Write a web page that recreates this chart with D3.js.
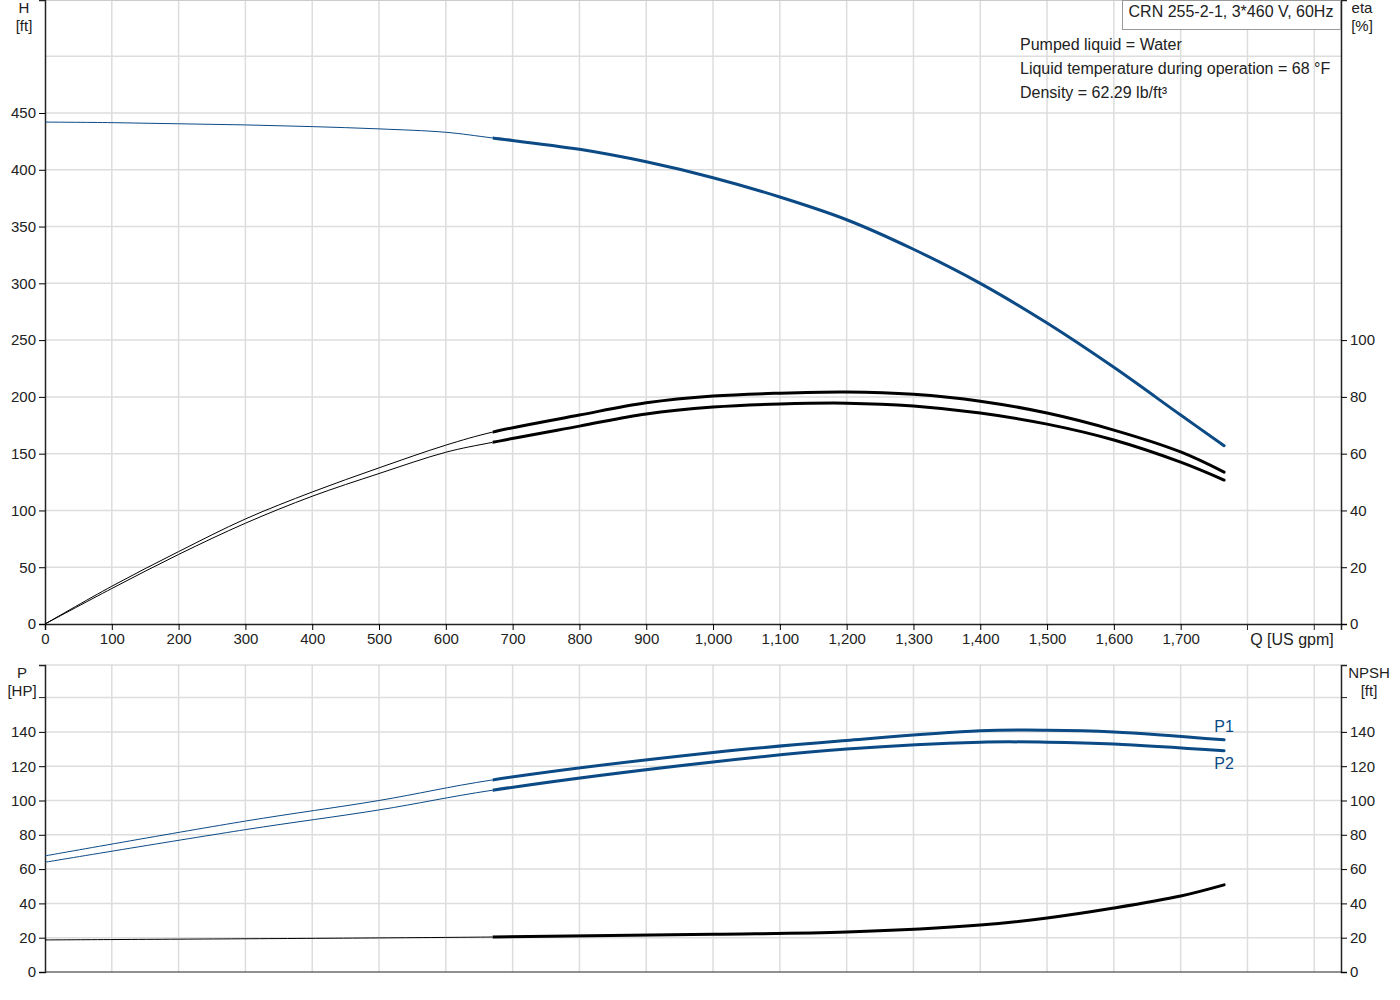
<!DOCTYPE html>
<html><head><meta charset="utf-8">
<script src="https://cdn.jsdelivr.net/npm/d3@7"></script>
<style>
body { margin: 0; background: #fff; }
text { font-family: "Liberation Sans", Arial, sans-serif; font-size: 15px; fill: #222; }
</style></head>
<body>
<script>
// data
var qH = [0, 100, 200, 300, 400, 500, 600, 670, 800, 900, 1000, 1100, 1200, 1300, 1400, 1500, 1600, 1700, 1765];
var head = [442, 441.5, 440.5, 439.5, 438, 436, 433, 428, 418, 407, 393, 376, 356, 330, 300, 265, 226, 184, 157];
var qE = [0, 100, 200, 300, 400, 500, 600, 670, 800, 900, 1000, 1100, 1200, 1300, 1400, 1500, 1600, 1700, 1765];
var etaUpper = [0, 13.3, 25.5, 37, 46.5, 55, 63, 67.6, 73.6, 77.9, 80.3, 81.3, 81.7, 80.9, 78.5, 74.3, 68.3, 60.6, 53.5];
var etaLower = [0, 12.5, 24.5, 35.5, 45, 53, 60.5, 64, 69.7, 74, 76.4, 77.5, 77.8, 76.8, 74.3, 70.4, 64.8, 57, 50.7];
var qP = [0, 300, 500, 670, 1000, 1200, 1400, 1500, 1600, 1765];
var p1 = [67.7, 88, 100, 112, 128, 135, 140.6, 141, 140, 135.4];
var p2 = [64, 83, 94.5, 106, 122.5, 130, 134, 134, 133, 129];
var qN = [0, 670, 1000, 1200, 1400, 1500, 1600, 1700, 1765];
var npsh = [18.7, 20.4, 22, 23.3, 27.4, 31.5, 37.3, 44.3, 50.8];
var qTicks = d3.range(0, 1800, 100);
var hTicks = d3.range(0, 500, 50);
var etaTicks = d3.range(0, 120, 20);
var pTicks = d3.range(0, 160, 20);
var qSplit = 670, qEnd = 1765;
var legendLines = ["Pumped liquid = Water", "Liquid temperature during operation = 68 °F", "Density = 62.29 lb/ft³"];

var blue = "#0b4a85";
var svg = d3.select("body").append("svg").attr("width", 1400).attr("height", 1000);

var L = 45, R = 1341;
var x = d3.scaleLinear().domain([0, 1940]).range([L, R]);
var yH = d3.scaleLinear().domain([0, 549.5]).range([624, 0]);
var yE = d3.scaleLinear().domain([0, 100 * 549.5 / 250]).range([624, 0]);
var yP = d3.scaleLinear().domain([0, 179]).range([972, 665]);

function grid(y0, y1, yScale, yGrid) {
  svg.append("g").selectAll("line").data(d3.range(100, 2000, 100)).join("line")
    .attr("x1", d => x(d)).attr("x2", d => x(d)).attr("y1", y0).attr("y2", y1)
    .attr("stroke", "#ddd").attr("stroke-width", 1.5);
  svg.append("g").selectAll("line").data(yGrid).join("line")
    .attr("x1", L).attr("x2", R).attr("y1", d => yScale(d)).attr("y2", d => yScale(d))
    .attr("stroke", "#ddd").attr("stroke-width", 1.5);
}
grid(0, 624, yH, d3.range(50, 550, 50));
grid(665, 972, yP, d3.range(20, 180, 20));

svg.append("line").attr("x1", L).attr("x2", R).attr("y1", 0.5).attr("y2", 0.5).attr("stroke", "#ccc");
svg.append("line").attr("x1", L).attr("x2", R).attr("y1", 665).attr("y2", 665).attr("stroke", "#ccc");

// axes
var ax = svg.append("g").attr("transform", "translate(0,624)")
  .call(d3.axisBottom(x).tickValues(qTicks).tickSize(6).tickFormat(d3.format(",")));
[1800, 1900].forEach(q => ax.append("line").attr("x1", x(q)).attr("x2", x(q)).attr("y1", 0).attr("y2", 6).attr("stroke", "#222"));
svg.append("g").attr("transform", "translate(" + L + ",0)")
  .call(d3.axisLeft(yH).tickValues(hTicks).tickSize(6));
svg.append("g").attr("transform", "translate(" + R + ",0)")
  .call(d3.axisRight(yE).tickValues(etaTicks).tickSize(6));
svg.append("g").attr("transform", "translate(" + L + ",0)")
  .call(d3.axisLeft(yP).tickValues(pTicks).tickSize(6))
  .call(g => g.append("line").attr("x1", -6).attr("x2", 0).attr("y1", yP(160)).attr("y2", yP(160)).attr("stroke", "#222"));
svg.append("g").attr("transform", "translate(" + R + ",0)")
  .call(d3.axisRight(yP).tickValues(pTicks).tickSize(6))
  .call(g => g.append("line").attr("x1", 0).attr("x2", 6).attr("y1", yP(160)).attr("y2", yP(160)).attr("stroke", "#222"));
svg.append("line").attr("x1", L).attr("x2", R).attr("y1", 972).attr("y2", 972).attr("stroke", "#222");
svg.selectAll(".domain").attr("stroke", "#222").attr("stroke-width", 1.5);
svg.selectAll(".tick text").style("font-size", "15px");

// clip regions: thin before qSplit, thick after
var defs = svg.append("defs");
defs.append("clipPath").attr("id", "thin").append("rect")
  .attr("x", 0).attr("y", 0).attr("width", x(qSplit)).attr("height", 1000);
defs.append("clipPath").attr("id", "thick").append("rect")
  .attr("x", x(qSplit)).attr("y", 0).attr("width", 1400).attr("height", 1000);

function curve(qs, vs, yScale, color) {
  var pts = qs.map((q, i) => [q, vs[i]]);
  var line = d3.line().x(d => x(d[0])).y(d => yScale(d[1])).curve(d3.curveCatmullRom.alpha(0.5));
  svg.append("path").attr("d", line(pts)).attr("clip-path", "url(#thin)")
    .attr("fill", "none").attr("stroke", color).attr("stroke-width", 1);
  svg.append("path").attr("d", line(pts)).attr("clip-path", "url(#thick)")
    .attr("fill", "none").attr("stroke", color).attr("stroke-width", 3).attr("stroke-linecap", "round");
}
curve(qH, head, yH, blue);
curve(qE, etaUpper, yE, "#000");
curve(qE, etaLower, yE, "#000");
curve(qP, p1, yP, blue);
curve(qP, p2, yP, blue);
curve(qN, npsh, yP, "#000");

function label(t, x0, y0, anchor, color, size) {
  svg.append("text").attr("x", x0).attr("y", y0).attr("text-anchor", anchor || "middle")
    .style("fill", color || "#222").style("font-size", (size || 15) + "px").text(t);
}
label("H", 24, 13); label("[ft]", 24, 31);
label("eta", 1362, 13); label("[%]", 1362, 31);
label("P", 22, 678); label("[HP]", 22, 696);
label("NPSH", 1369, 678); label("[ft]", 1369, 696);
label("Q [US gpm]", 1292, 645, "middle", "#222", 16);
label("P1", x(qEnd), yP(p1[p1.length - 1]) - 8, "middle", blue, 16);
label("P2", x(qEnd), yP(p2[p2.length - 1]) + 18, "middle", blue, 16);

svg.append("rect").attr("x", 1122.5).attr("y", 0.5).attr("width", 218).attr("height", 29)
  .attr("fill", "#fff").attr("stroke", "#999");
label("CRN 255-2-1, 3*460 V, 60Hz", 1231, 17, "middle", "#222", 16);
legendLines.forEach((t, i) => label(t, 1020, 50 + i * 24, "start", "#222", 16));
</script>
</body></html>
